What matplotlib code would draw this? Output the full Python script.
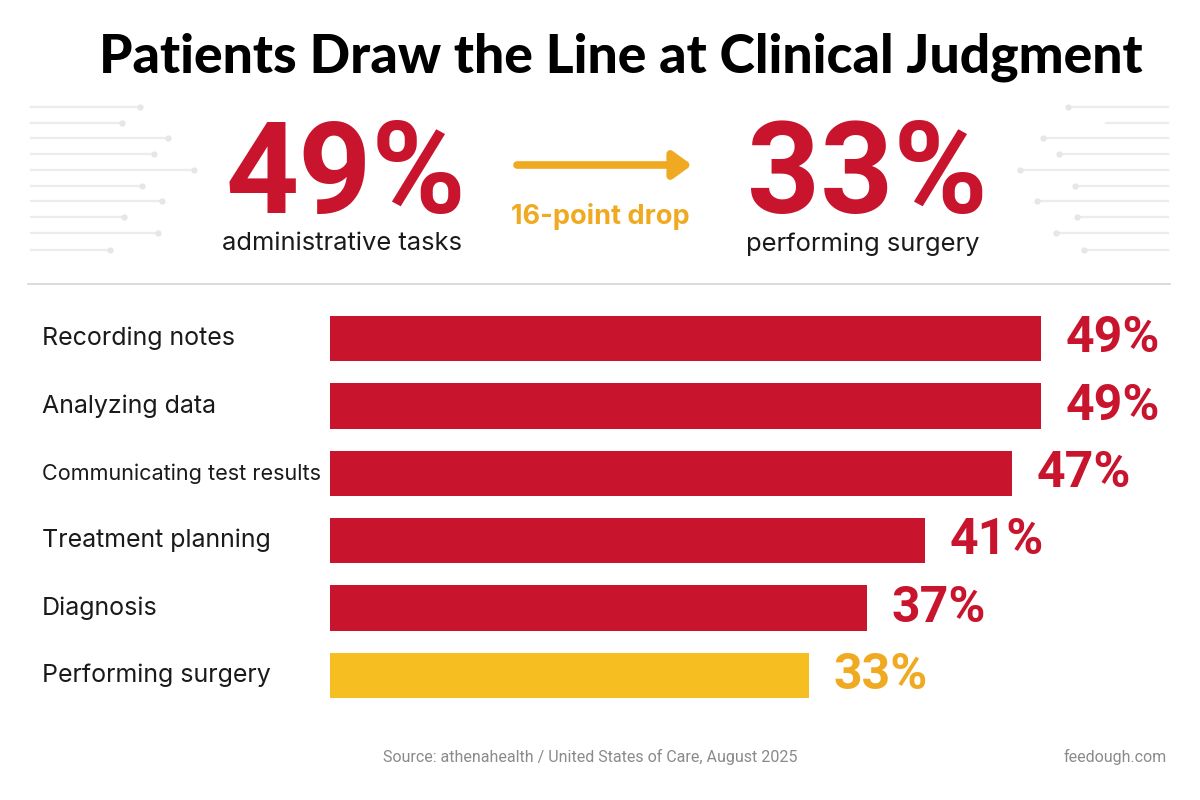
import numpy as np
import matplotlib.pyplot as plt
from matplotlib.transforms import blended_transform_factory

# data
tasks = ['Recording notes', 'Analyzing data', 'Communicating test results',
         'Treatment planning', 'Diagnosis', 'Performing surgery']
pct = [49, 49, 47, 41, 37, 33]
highlight = 'Performing surgery'

big_left = 49
big_left_label = 'administrative tasks'
big_right = 33
big_right_label = 'performing surgery'
drop_label = '16-point drop'

title = 'Patients Draw the Line at Clinical Judgment'
source = 'Source: athenahealth / United States of Care, August 2025'
brand = 'feedough.com'

RED = '#C8142C'
YELLOW = '#F7BE22'
ORANGE = '#F0AA22'
DARK = '#1a1a1a'

fig = plt.figure(figsize=(12, 8), dpi=100)
fig.patch.set_facecolor('white')

# background axes in pixel coords
bg = fig.add_axes([0, 0, 1, 1])
bg.set_xlim(0, 1200)
bg.set_ylim(800, 0)
bg.axis('off')

# decorative faint lines
left_y = [107, 123, 138, 154, 170, 186, 201, 217, 233, 250]
left_end = [140, 122, 168, 154, 194, 142, 162, 124, 158, 110]
for y, xe in zip(left_y, left_end):
    bg.plot([31, xe], [y, y], color='#ececec', lw=1.6, zorder=0)
    bg.plot(xe, y, 'o', color='#e6e6e6', ms=3.5, zorder=0)
right_start = [1068, 1106, 1043, 1059, 1020, 1075, 1037, 1077, 1056, 1084]
for i, (y, xs) in enumerate(zip(left_y, right_start)):
    bg.plot([xs, 1168], [y, y], color='#ececec', lw=1.6, zorder=0)
    if i != 1:
        bg.plot(xs, y, 'o', color='#e6e6e6', ms=3.5, zorder=0)

bg.text(621, 57, title, ha='center', va='center', fontsize=38.5,
        fontweight='black', family='Lato', color='black')

bg.text(346, 178, f'{big_left}%', ha='center', va='center', fontsize=92,
        fontweight='bold', family='Roboto', color=RED)
bg.text(342, 244, big_left_label, ha='center', va='center', fontsize=18.4,
        family='Inter', color=DARK)
bg.text(867, 178, f'{big_right}%', ha='center', va='center', fontsize=92,
        fontweight='bold', family='Roboto', color=RED)
bg.text(863, 244, big_right_label, ha='center', va='center', fontsize=18.4,
        family='Inter', color=DARK)

bg.annotate('', xy=(692, 165), xytext=(517, 165),
            arrowprops=dict(arrowstyle='-|>,head_length=1.1,head_width=0.8',
                            color=ORANGE, lw=5.5, shrinkA=0, shrinkB=0))
bg.text(600, 216, drop_label, ha='center', va='center', fontsize=19.5,
        fontweight='bold', family='Inter', color=ORANGE)

bg.plot([28, 1170], [284, 284], color='#d4d4d4', lw=1.2)

bg.text(590, 757, source, ha='center', va='center', fontsize=11.5,
        family='Roboto', color='#8a8a8a')
bg.text(1167, 757, brand, ha='right', va='center', fontsize=11.5,
        family='Roboto', color='#8a8a8a')

# bar chart
ax = fig.add_axes([330 / 1200, 91 / 800, 870 / 1200, 404 / 800])
ax.set_xlim(0, 60)
ax.set_ylim(len(tasks) - 0.5, -0.5)
ax.axis('off')

ypos = np.arange(len(tasks))
colors = [YELLOW if t == highlight else RED for t in tasks]
ax.barh(ypos, pct, height=0.67, color=colors)

renderer = fig.canvas.get_renderer()
tr = blended_transform_factory(fig.transFigure, ax.transData)
for y, t, v, c in zip(ypos, tasks, pct, colors):
    lab = ax.text(42 / 1200, y, t, transform=tr, ha='left', va='center',
                  fontsize=18, family='Inter', color=DARK)
    w = lab.get_window_extent(renderer).width
    if w > 278:
        lab.set_fontsize(18 * 278 / w)
    vc = ORANGE if t == highlight else RED
    ax.text(v + 1.7, y, f'{v}%', ha='left', va='center', fontsize=36,
            fontweight='bold', family='Roboto', color=vc)

fig.savefig('out.png', dpi=100, facecolor='white')
